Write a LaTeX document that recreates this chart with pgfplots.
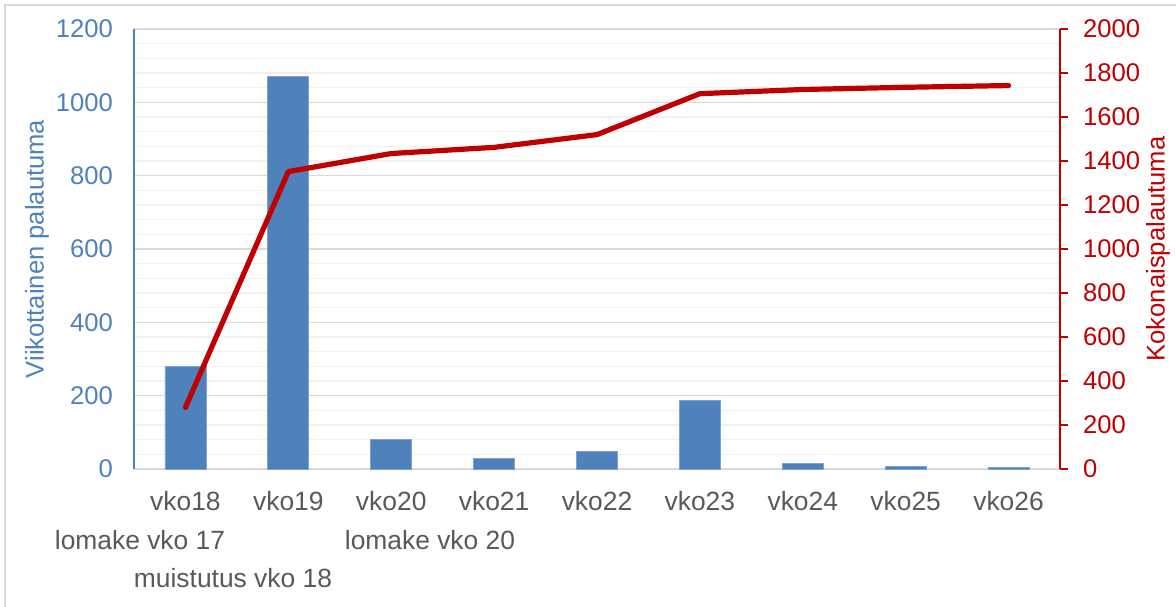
\documentclass[border=0pt]{standalone}
\usepackage{fontspec}
\setmainfont{Liberation Sans}
\usepackage{pgfplots}
\pgfplotsset{compat=1.18}
\definecolor{barblue}{HTML}{4F81BD}
\definecolor{baredge}{HTML}{7EA1CF}
\definecolor{linered}{HTML}{C00000}
\definecolor{txtgray}{HTML}{595959}
\definecolor{majgrid}{HTML}{D9D9D9}
\definecolor{mingrid}{HTML}{F0F0F0}
\begin{document}
\begin{tikzpicture}[font=\fontsize{12.8}{15.4}\selectfont]
\useasboundingbox (0,0) rectangle (588pt,303pt);
\draw[majgrid, line width=0.8pt] (2.5pt,-5pt) -- (2.5pt,300.5pt) -- (600pt,300.5pt);
\begin{axis}[
  at={(67pt,68.5pt)}, anchor=south west, scale only axis,
  width=463pt, height=220pt,
  xmin=-0.5, xmax=8.5, ymin=0, ymax=1200,
  ytick={0,200,...,1200}, minor y tick num=4,
  ymajorgrids, yminorgrids,
  major grid style={majgrid, line width=0.8pt},
  minor grid style={mingrid, line width=0.8pt},
  axis x line*=bottom, axis y line*=left,
  x axis line style={majgrid, line width=1.2pt, -},
  y axis line style={barblue, line width=1pt, -},
  major tick length=0pt, minor tick length=0pt,
  xtick={0,...,8},
  xticklabels={vko18,vko19,vko20,vko21,vko22,vko23,vko24,vko25,vko26},
  xticklabel style={txtgray, yshift=-7.5pt, font=\fontsize{13.2}{15.8}\selectfont},
  yticklabel style={barblue, xshift=-7pt},
  /pgf/number format/assume math mode=true,
  /pgf/number format/1000 sep={},
  ylabel={Viikottainen palautuma},
  ylabel style={barblue, at={(axis description cs:-0.1048,0.5)}, rotate=0, anchor=center},
  ybar, bar width=20.5pt,
  clip=false,
]
\addplot[fill=barblue, draw=baredge, line width=0.4pt] coordinates {
  (0,280) (1,1070) (2,81) (3,28) (4,47) (5,188) (6,16) (7,8) (8,5)
};
\end{axis}
\begin{axis}[
  at={(67pt,68.5pt)}, anchor=south west, scale only axis,
  width=463pt, height=220pt,
  xmin=-0.5, xmax=8.5, ymin=0, ymax=2000,
  ytick={0,200,...,2000},
  hide x axis,
  axis y line*=right,
  y axis line style={linered, line width=1pt, -},
  tick align=outside, major tick length=4pt,
  ytick style={linered, line width=0.8pt},
  yticklabel style={linered, xshift=4pt},
  /pgf/number format/assume math mode=true,
  /pgf/number format/1000 sep={},
  ylabel={Kokonaispalautuma},
  ylabel style={linered, at={(axis description cs:1.1058,0.5)}, rotate=0, anchor=center},
  clip=false,
]
\addplot[linered, line width=2.6pt, line cap=round, line join=round] coordinates {
  (0,280) (1,1352) (2,1434) (3,1462) (4,1520) (5,1706) (6,1725) (7,1735) (8,1743)
};
\end{axis}
\node[txtgray, font=\fontsize{13.2}{15.8}\selectfont] at (70pt,33pt) {lomake vko 17};
\node[txtgray, font=\fontsize{13.2}{15.8}\selectfont] at (116.5pt,14pt) {muistutus vko 18};
\node[txtgray, font=\fontsize{13.2}{15.8}\selectfont] at (215pt,33pt) {lomake vko 20};
\end{tikzpicture}
\end{document}
